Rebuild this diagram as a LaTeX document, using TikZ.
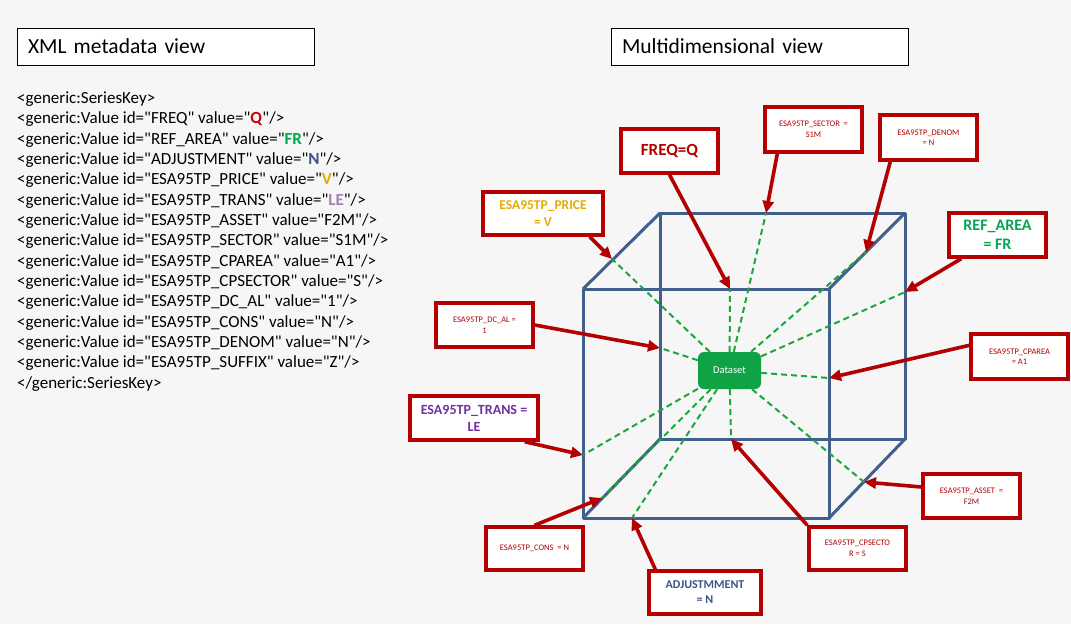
\documentclass[tikz,border=0pt]{standalone}
\usepackage{fontspec}
\setmainfont{Carlito}[Ligatures=TeXOff]
\usetikzlibrary{arrows.meta}

\definecolor{boxred}{RGB}{180,0,0}
\definecolor{xmlred}{RGB}{200,0,0}
\definecolor{cubeblue}{RGB}{65,95,140}
\definecolor{dsgreen}{RGB}{16,163,70}
\definecolor{dashgreen}{RGB}{30,165,60}
\definecolor{pricegold}{RGB}{228,172,0}
\definecolor{areagreen}{RGB}{0,166,80}
\definecolor{transpurple}{RGB}{112,48,160}
\definecolor{lepurple}{RGB}{160,130,190}
\definecolor{adjblue}{RGB}{60,85,130}
\definecolor{bggray}{RGB}{246,246,246}

\newcommand{\xmlval}[2]{\textcolor{#1}{\textbf{#2}}}

\tikzset{
  titlebox/.style={draw=black, line width=0.9pt, fill=white, minimum height=37pt, text width=275pt, inner xsep=11pt, align=left, font=\fontsize{21.5}{24}\selectfont},
  xmlline/.style={anchor=west, inner sep=0pt, font=\fontsize{17}{19}\selectfont},
  dimbox/.style={draw=boxred, line width=3.4pt, fill=white, minimum width=97pt, minimum height=44pt, inner sep=2pt, align=center, text=boxred, font=\fontsize{8.5}{10.5}\selectfont},
  bigtext/.style={font=\fontsize{13.5}{16.5}\selectfont\bfseries},
  cubeline/.style={draw=cubeblue, line width=3pt, line join=round},
  dimline/.style={dashgreen, line width=2pt, dash pattern=on 6pt off 4pt},
  dimarrow/.style={boxred, line width=3.6pt, -{Triangle[length=12pt,width=11pt]}},
  dataset/.style={fill=dsgreen, rounded corners=6pt, minimum width=63pt, minimum height=37pt, text=white, font=\fontsize{10.5}{12}\selectfont}
}

\begin{document}
\begin{tikzpicture}[x=1pt,y=-1pt]
        \fill[bggray] (0,0) rectangle (1071,624);
        \useasboundingbox (0,0) rectangle (1071,624);

        % titles
        \node[titlebox] (xmlview) at (165.5,46.5) {XML metadata view};
        \node[titlebox] (dimview) at (759.5,46.5) {Multidimensional view};

        % series key
        \node[xmlline] (x0) at (17,99) {<generic:SeriesKey>};
        \node[xmlline] (x1) at (17,119.3) {<generic:Value id="FREQ" value="\xmlval{xmlred}{Q}"/>};
        \node[xmlline] (x2) at (17,139.7) {<generic:Value id="REF\_AREA" value="\xmlval{areagreen}{FR}"/>};
        \node[xmlline] (x3) at (17,160) {<generic:Value id="ADJUSTMENT" value="\xmlval{adjblue}{N}"/>};
        \node[xmlline] (x4) at (17,180.3) {<generic:Value id="ESA95TP\_PRICE" value="\xmlval{pricegold}{V}"/>};
        \node[xmlline] (x5) at (17,200.7) {<generic:Value id="ESA95TP\_TRANS" value="\xmlval{lepurple}{LE}"/>};
        \node[xmlline] (x6) at (17,221) {<generic:Value id="ESA95TP\_ASSET" value="F2M"/>};
        \node[xmlline] (x7) at (17,241.3) {<generic:Value id="ESA95TP\_SECTOR" value="S1M"/>};
        \node[xmlline] (x8) at (17,261.6) {<generic:Value id="ESA95TP\_CPAREA" value="A1"/>};
        \node[xmlline] (x9) at (17,282) {<generic:Value id="ESA95TP\_CPSECTOR" value="S"/>};
        \node[xmlline] (x10) at (17,302.3) {<generic:Value id="ESA95TP\_DC\_AL" value="1"/>};
        \node[xmlline] (x11) at (17,322.6) {<generic:Value id="ESA95TP\_CONS" value="N"/>};
        \node[xmlline] (x12) at (17,343) {<generic:Value id="ESA95TP\_DENOM" value="N"/>};
        \node[xmlline] (x13) at (17,363.3) {<generic:Value id="ESA95TP\_SUFFIX" value="Z"/>};
        \node[xmlline] (x14) at (17,383.6) {</generic:SeriesKey>};

        % cube
        \coordinate (f1) at (583,289);
        \coordinate (f2) at (829,289);
        \coordinate (f3) at (829,518);
        \coordinate (f4) at (583,518);
        \coordinate (b1) at (660,213);
        \coordinate (b2) at (905,213);
        \coordinate (b3) at (905,439);
        \coordinate (b4) at (660,439);
        \draw[cubeline] (f1) -- (f2) -- (f3) -- (f4) -- cycle;
        \draw[cubeline] (b1) -- (b2) -- (b3) -- (b4) -- cycle;
        \draw[cubeline] (f1) -- (b1);
        \draw[cubeline] (f2) -- (b2);
        \draw[cubeline] (f3) -- (b3);
        \draw[cubeline] (f4) -- (b4);

        % points on the cube
        \coordinate (hPrice) at (612,259);
        \coordinate (hFreq) at (730,289);
        \coordinate (hSector) at (766,213);
        \coordinate (hDenom) at (866,252);
        \coordinate (hArea) at (905,292);
        \coordinate (hCparea) at (829,378);
        \coordinate (hDcal) at (660,348);
        \coordinate (hTrans) at (583,455);
        \coordinate (hCons) at (602,498);
        \coordinate (hAdj) at (632,518);
        \coordinate (hCpsector) at (731,439);
        \coordinate (hAsset) at (864,482);

        \node[dataset] (ds) at (729.5,370.5) {Dataset};

        \draw[dimline] (ds) -- (hPrice);
        \draw[dimline] (ds) -- (hFreq);
        \draw[dimline] (ds) -- (hSector);
        \draw[dimline] (ds) -- (hDenom);
        \draw[dimline] (ds) -- (hArea);
        \draw[dimline] (ds) -- (hCparea);
        \draw[dimline] (ds) -- (hDcal);
        \draw[dimline] (ds) -- (hTrans);
        \draw[dimline] (ds) -- (hCons);
        \draw[dimline] (ds) -- (hAdj);
        \draw[dimline] (ds) -- (hCpsector);
        \draw[dimline] (ds) -- (hAsset);

        % dimension boxes
        \node[dimbox, bigtext, text=pricegold, minimum width=120pt, minimum height=43pt] (price) at (543,213.5) {ESA95TP\_PRICE\\= V};
        \node[dimbox, font=\fontsize{17}{20}\selectfont\bfseries] (freq) at (669.5,151) {FREQ=Q};
        \node[dimbox, minimum height=45pt] (sector) at (813.5,129.5) {ESA95TP\_SECTOR\ \ =\\S1M};
        \node[dimbox, minimum height=45pt] (denom) at (928.5,137.5) {ESA95TP\_DENOM\\= N};
        \node[dimbox, text=areagreen, font=\fontsize{16}{19}\selectfont\bfseries] (area) at (997.5,235) {REF\_AREA\\= FR};
        \node[dimbox] (dcal) at (484.5,325) {ESA95TP\_DC\_AL\ =\\1};
        \node[dimbox, minimum height=45pt] (cparea) at (1019.5,356.5) {ESA95TP\_CPAREA\\= A1};
        \node[dimbox, text=transpurple, font=\fontsize{14}{17}\selectfont\bfseries, minimum width=128pt] (trans) at (474,418) {ESA95TP\_TRANS =\\LE};
        \node[dimbox] (asset) at (971.5,496) {ESA95TP\_ASSET\ \ =\\F2M};
        \node[dimbox, minimum height=43pt] (cons) at (534.5,548.5) {ESA95TP\_CONS\ \ = N};
        \node[dimbox, minimum height=43pt] (cpsector) at (857.5,548.5) {ESA95TP\_CPSECTO\\R = S};
        \node[dimbox, text=adjblue, font=\fontsize{12}{15}\selectfont\bfseries, minimum width=112pt, minimum height=43pt] (adj) at (705,592.5) {ADJUSTMMENT\\= N};

        \draw[dimarrow] ([xshift=-15pt]price.south east) -- (hPrice);
        \draw[dimarrow] (freq.south) -- (hFreq);
        \draw[dimarrow] ([xshift=14pt]sector.south west) -- (hSector);
        \draw[dimarrow] ([xshift=12pt]denom.south west) -- (hDenom);
        \draw[dimarrow] ([xshift=14pt]area.south west) -- (hArea);
        \draw[dimarrow] ([yshift=-13pt]cparea.north west) -- (hCparea);
        \draw[dimarrow] (dcal.east) -- (hDcal);
        \draw[dimarrow] ([xshift=-15pt]trans.south east) -- (hTrans);
        \draw[dimarrow] ([yshift=9pt]asset.west) -- (hAsset);
        \draw[dimarrow] (cons.north) -- (hCons);
        \draw[dimarrow] (cpsector.north west) -- (hCpsector);
        \draw[dimarrow] ([xshift=8pt]adj.north west) -- (hAdj);
\end{tikzpicture}
\end{document}
